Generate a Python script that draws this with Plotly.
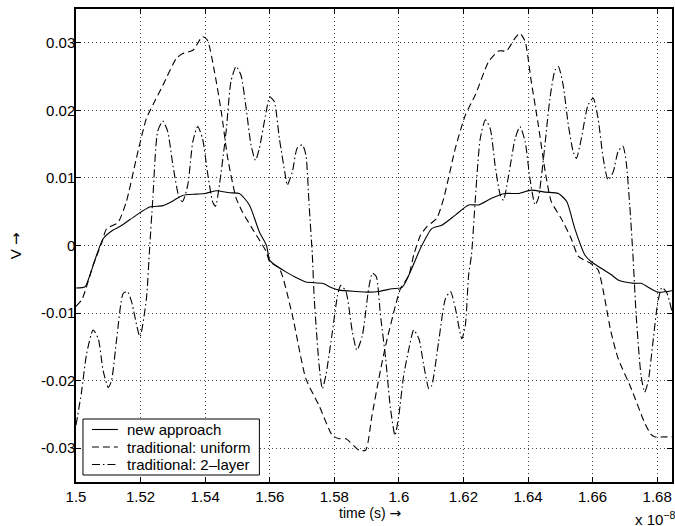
import plotly.graph_objects as go

# ---- data (time in units of 1e-8 s, voltage in V) ----
t_new = [1.5000, 1.5028, 1.5043, 1.5064, 1.5084, 1.5115, 1.5136, 1.5187, 1.5228, 1.5269,
         1.5300, 1.5330, 1.5372, 1.5400, 1.5434, 1.5475, 1.5506, 1.5537, 1.5568, 1.5590,
         1.5600, 1.5620, 1.5650, 1.5680, 1.5712, 1.5763, 1.5790, 1.5815, 1.5866, 1.5907,
         1.5938, 1.5979, 1.6010, 1.6040, 1.6067, 1.6102, 1.6133, 1.6175, 1.6216, 1.6247,
         1.6287, 1.6329, 1.6370, 1.6410, 1.6453, 1.6494, 1.6520, 1.6545, 1.6576, 1.6596,
         1.6657, 1.6679, 1.6700, 1.6730, 1.6750, 1.6802, 1.6846]
v_new = [-0.0063, -0.0061, -0.0044, -0.0014, 0.0010, 0.0023, 0.0028, 0.0045, 0.0057, 0.0059,
         0.0066, 0.0074, 0.0076, 0.0077, 0.0081, 0.0078, 0.0077, 0.0060, 0.0020, 0.0000,
         -0.0022, -0.0030, -0.0039, -0.0047, -0.0054, -0.0056, -0.0062, -0.0066, -0.0068, -0.0069,
         -0.0068, -0.0064, -0.0062, -0.0034, -0.0004, 0.0025, 0.0030, 0.0045, 0.0060, 0.0060,
         0.0070, 0.0077, 0.0077, 0.0082, 0.0079, 0.0077, 0.0065, 0.0025, -0.0014, -0.0024,
         -0.0043, -0.0051, -0.0054, -0.0056, -0.0056, -0.0069, -0.0067]

t_uniform = [1.5000, 1.5017, 1.5028, 1.5053, 1.5079, 1.5095, 1.5130, 1.5156, 1.5187, 1.5218,
             1.5238, 1.5269, 1.5311, 1.5331, 1.5362, 1.5392, 1.5407, 1.5429, 1.5450, 1.5470,
             1.5496, 1.5515, 1.5546, 1.5589, 1.5600, 1.5630, 1.5670, 1.5712, 1.5753, 1.5794,
             1.5815, 1.5836, 1.5877, 1.5897, 1.5917, 1.5938, 1.5959, 1.5990, 1.6005, 1.6031,
             1.6046, 1.6067, 1.6087, 1.6117, 1.6139, 1.6175, 1.6206, 1.6237, 1.6278, 1.6309,
             1.6333, 1.6360, 1.6375, 1.6391, 1.6410, 1.6432, 1.6453, 1.6472, 1.6503, 1.6534,
             1.6556, 1.6596, 1.6617, 1.6657, 1.6679, 1.6720, 1.6760, 1.6780, 1.6792, 1.6846]
v_uniform = [-0.0090, -0.0081, -0.0068, -0.0029, 0.0003, 0.0025, 0.0034, 0.0065, 0.0129, 0.0188,
             0.0208, 0.0237, 0.0277, 0.0284, 0.0289, 0.0309, 0.0304, 0.0257, 0.0198, 0.0129,
             0.0070, 0.0050, 0.0025, -0.0009, -0.0024, -0.0034, -0.0103, -0.0197, -0.0237, -0.0281,
             -0.0286, -0.0286, -0.0303, -0.0303, -0.0251, -0.0197, -0.0148, -0.0088, -0.0064, -0.0044,
             -0.0014, 0.0015, 0.0028, 0.0040, 0.0070, 0.0144, 0.0193, 0.0223, 0.0272, 0.0288,
             0.0288, 0.0307, 0.0314, 0.0302, 0.0243, 0.0178, 0.0110, 0.0065, 0.0040, 0.0010,
             -0.0016, -0.0027, -0.0036, -0.0128, -0.0167, -0.0212, -0.0261, -0.0279, -0.0283, -0.0283]

t_2layer = [1.5000, 1.5017, 1.5033, 1.5053, 1.5069, 1.5084, 1.5100, 1.5110, 1.5126, 1.5146,
            1.5159, 1.5172, 1.5198, 1.5218, 1.5228, 1.5238, 1.5253, 1.5269, 1.5284, 1.5300,
            1.5320, 1.5330, 1.5346, 1.5362, 1.5377, 1.5392, 1.5407, 1.5423, 1.5432, 1.5444,
            1.5465, 1.5480, 1.5496, 1.5511, 1.5527, 1.5542, 1.5556, 1.5568, 1.5589, 1.5600,
            1.5614, 1.5630, 1.5650, 1.5654, 1.5670, 1.5685, 1.5701, 1.5712, 1.5722, 1.5732,
            1.5738, 1.5753, 1.5763, 1.5774, 1.5794, 1.5810, 1.5820, 1.5836, 1.5856, 1.5870,
            1.5887, 1.5907, 1.5918, 1.5930, 1.5943, 1.5959, 1.5974, 1.5988, 1.6000, 1.6015,
            1.6031, 1.6046, 1.6062, 1.6077, 1.6093, 1.6102, 1.6123, 1.6144, 1.6160, 1.6175,
            1.6195, 1.6206, 1.6216, 1.6225, 1.6237, 1.6252, 1.6268, 1.6283, 1.6298, 1.6314,
            1.6324, 1.6340, 1.6360, 1.6375, 1.6391, 1.6406, 1.6422, 1.6432, 1.6448, 1.6468,
            1.6484, 1.6494, 1.6509, 1.6525, 1.6540, 1.6550, 1.6565, 1.6586, 1.6602, 1.6617,
            1.6633, 1.6648, 1.6664, 1.6679, 1.6694, 1.6704, 1.6715, 1.6725, 1.6735, 1.6750,
            1.6761, 1.6772, 1.6787, 1.6802, 1.6815, 1.6830, 1.6846]
v_2layer = [-0.0266, -0.0217, -0.0160, -0.0125, -0.0138, -0.0185, -0.0210, -0.0200, -0.0138, -0.0071,
            -0.0068, -0.0083, -0.0135, -0.0079, -0.0004, 0.0070, 0.0169, 0.0184, 0.0169, 0.0119,
            0.0070, 0.0065, 0.0089, 0.0154, 0.0176, 0.0158, 0.0109, 0.0065, 0.0058, 0.0089,
            0.0169, 0.0243, 0.0265, 0.0252, 0.0203, 0.0149, 0.0126, 0.0144, 0.0198, 0.0220,
            0.0213, 0.0158, 0.0099, 0.0089, 0.0109, 0.0144, 0.0149, 0.0134, 0.0060, -0.0014,
            -0.0079, -0.0177, -0.0212, -0.0192, -0.0128, -0.0074, -0.0059, -0.0068, -0.0128, -0.0155,
            -0.0133, -0.0062, -0.0041, -0.0046, -0.0103, -0.0167, -0.0241, -0.0281, -0.0251, -0.0192,
            -0.0153, -0.0125, -0.0138, -0.0177, -0.0212, -0.0207, -0.0143, -0.0079, -0.0068, -0.0093,
            -0.0138, -0.0118, -0.0044, -0.0014, 0.0070, 0.0158, 0.0186, 0.0173, 0.0119, 0.0075,
            0.0067, 0.0104, 0.0158, 0.0176, 0.0154, 0.0099, 0.0060, 0.0070, 0.0129, 0.0218,
            0.0260, 0.0265, 0.0237, 0.0178, 0.0139, 0.0129, 0.0158, 0.0208, 0.0218, 0.0188,
            0.0129, 0.0097, 0.0109, 0.0139, 0.0147, 0.0124, 0.0060, -0.0014, -0.0103, -0.0192,
            -0.0217, -0.0202, -0.0143, -0.0084, -0.0062, -0.0070, -0.0098]

series_names = ["new approach", "traditional: uniform", "traditional: 2\u2013layer"]

x_ticks = [1.5, 1.52, 1.54, 1.56, 1.58, 1.6, 1.62, 1.64, 1.66, 1.68]
x_tick_labels = ["1.5", "1.52", "1.54", "1.56", "1.58", "1.6", "1.62", "1.64", "1.66", "1.68"]
y_ticks = [-0.03, -0.02, -0.01, 0, 0.01, 0.02, 0.03]
y_tick_labels = ["-0.03", "-0.02", "-0.01", "0", "0.01", "0.02", "0.03"]

FONT = "Liberation Sans, Arial, Helvetica, sans-serif"
ARROW = "<span style='font-family:DejaVu Sans'>\u2192</span>"
DASHES = ["solid", "7px,4px", "8px,3px,1.5px,3px"]
LW = 1.1

fig = go.Figure()
for tt, vv, name, dash in zip([t_new, t_uniform, t_2layer], [v_new, v_uniform, v_2layer], series_names, DASHES):
    fig.add_trace(go.Scatter(x=tt, y=vv, mode="lines", name=name, showlegend=False,
                             line=dict(color="black", width=LW, dash=dash, shape="spline", smoothing=0.6)))

axis_common = dict(
    showline=True, linecolor="black", linewidth=1.5, mirror="ticks",
    ticks="inside", ticklen=5, tickwidth=1, tickcolor="black",
    showgrid=True, gridcolor="#444", gridwidth=1, griddash="1px,3px",
    zeroline=False, tickfont=dict(family=FONT, size=15, color="black"),
)

fig.update_xaxes(range=[1.5, 1.6846], tickvals=x_ticks, ticktext=x_tick_labels, **axis_common)
fig.update_yaxes(range=[-0.035, 0.035], tickvals=y_ticks, ticktext=y_tick_labels,
                 ticklabelstandoff=-4, **axis_common)

# layout geometry (pixels of the 675x526 canvas)
L, R, T, B = 76, 1, 9, 44
W, H = 675, 526
plot_w = W - L - R
plot_h = H - T - B


def px(x):
    return (x - L) / plot_w


def py(y):
    return (H - B - y) / plot_h


shapes = [dict(type="rect", xref="paper", yref="paper", x0=px(83), x1=px(260), y0=py(475), y1=py(419),
               line=dict(color="black", width=1), fillcolor="white", layer="above")]
annotations = []
row_y = [429.5, 447, 464.5]
for name, dash, ry in zip(series_names, DASHES, row_y):
    shapes.append(dict(type="line", xref="paper", yref="paper", x0=px(92), x1=px(118), y0=py(ry), y1=py(ry),
                       line=dict(color="black", width=LW, dash=dash), layer="above"))
    annotations.append(dict(text=name, xref="paper", yref="paper", x=px(125), y=py(ry),
                            xanchor="left", yanchor="middle", showarrow=False,
                            font=dict(family=FONT, size=15, color="black")))

annotations += [
    dict(text="time (s) " + ARROW, xref="paper", yref="paper", x=px(371), y=py(513),
         xanchor="center", yanchor="middle", showarrow=False, font=dict(family=FONT, size=14)),
    dict(text="V " + ARROW, xref="paper", yref="paper", x=px(16), y=py(246),
         xanchor="center", yanchor="middle", textangle=-90, showarrow=False, font=dict(family=FONT, size=15)),
    dict(text="x 10<sup>\u22128</sup>", xref="paper", yref="paper", x=px(635), y=py(518),
         xanchor="left", yanchor="middle", showarrow=False, font=dict(family=FONT, size=15)),
]

fig.update_layout(
    width=W, height=H,
    margin=dict(l=L, r=R, t=T, b=B),
    paper_bgcolor="white", plot_bgcolor="white",
    font=dict(family=FONT, size=15, color="black"),
    showlegend=False,
    shapes=shapes,
    annotations=annotations,
)

fig.write_html("out.html", config={"displayModeBar": False},
               post_script="document.body.style.margin='0';document.body.style.overflow='hidden';")
